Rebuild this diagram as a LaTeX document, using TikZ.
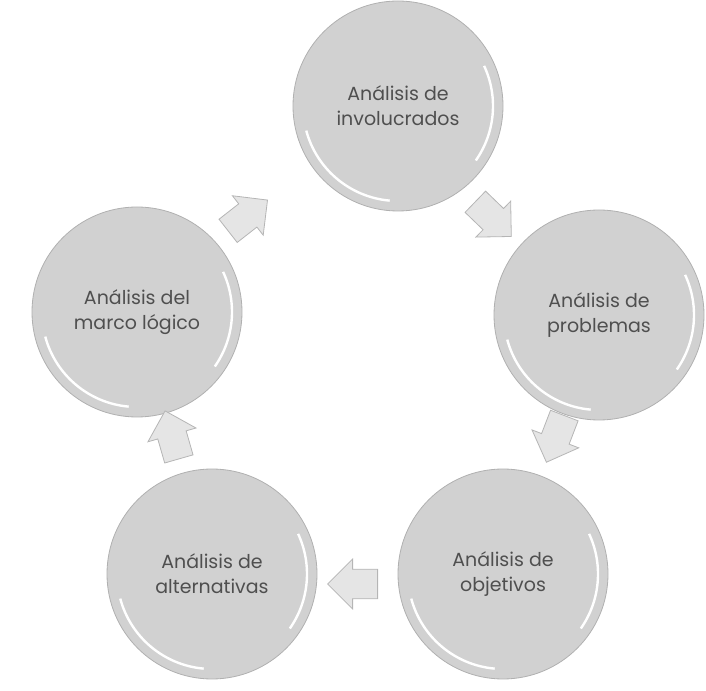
\documentclass[tikz,border=0pt]{standalone}
\usepackage{fontspec}
\setmainfont{Poppins}
\usepackage{tikz}
\usetikzlibrary{shapes.arrows,calc}

\begin{document}
\begin{tikzpicture}[
x=1pt,y=1pt,
fase/.style={
  circle,
  minimum size=210pt,
  inner sep=0pt,
  fill=gray!36,
  draw=gray!62,
  line width=0.8pt,
  text=gray!62!black,
  align=center,
  font=\fontsize{19}{25}\selectfont
  },
paso/.style={
  single arrow,
  single arrow head extend=10pt,
  minimum width=50pt,
  minimum height=50pt,
  inner xsep=0pt,
  inner ysep=14pt,
  fill=gray!20,
  draw=gray!58,
  line width=0.8pt
  },
brillo/.style={
  white,
  line width=2.4pt
  },
>=latex
]
\useasboundingbox (0,0) rectangle (706,690);

% las cinco fases
\node[fase] (inv) at (398,584) {Análisis de\\involucrados};
\node[fase] (prob) at (599,375) {Análisis de\\problemas};
\node[fase] (obj) at (503,116) {Análisis de\\objetivos};
\node[fase] (alt) at (212,116) {Análisis de\\alternativas};
\node[fase] (marco) at (137,378) {Análisis del\\marco lógico};

% brillo blanco dentro de cada circulo
\foreach \f in {inv,prob,obj,alt,marco}{
  \draw[brillo] ([shift={(195:95pt)}]\f.center) arc[start angle=195, end angle=265, radius=95pt];
  \draw[brillo] ([shift={(-35:95pt)}]\f.center) arc[start angle=-35, end angle=25, radius=95pt];
}

% flechas entre fases
\node[paso, rotate=-44] (p1) at (488,476) {};
\node[paso, rotate=-111] (p2) at (558,258) {};
\node[paso, rotate=180] (p3) at (360,106) {};
\node[paso, rotate=106] (p4) at (174,248) {};
\node[paso, rotate=38] (p5) at (242,470) {};
\end{tikzpicture}
\end{document}
